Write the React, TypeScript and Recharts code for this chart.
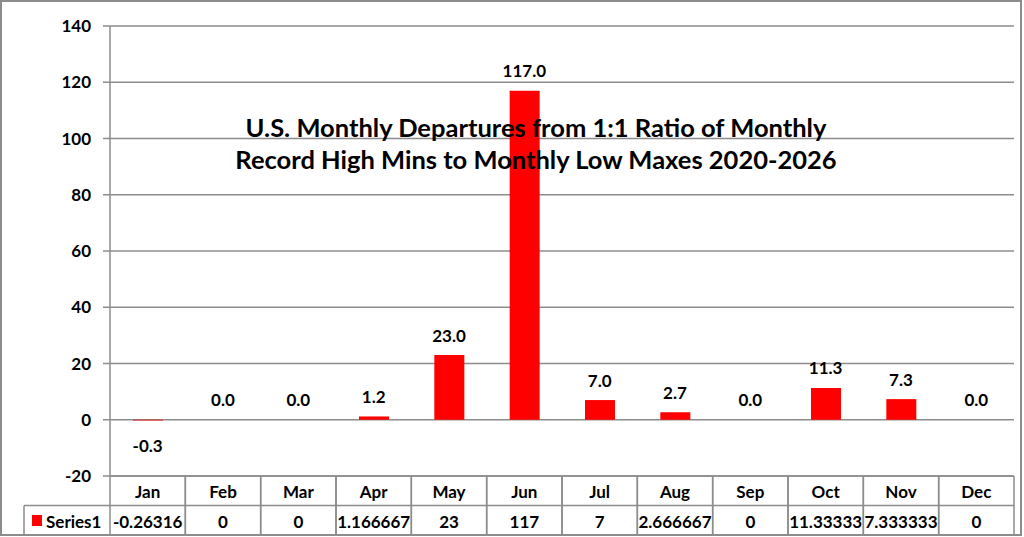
import { ComposedChart, Bar, Line, XAxis, YAxis, CartesianGrid, LabelList } from "recharts";

const months = ["Jan", "Feb", "Mar", "Apr", "May", "Jun", "Jul", "Aug", "Sep", "Oct", "Nov", "Dec"];
const series1 = [-0.26316, 0, 0, 1.166667, 23, 117, 7, 2.666667, 0, 11.33333, 7.333333, 0];
const yTicks = [-20, 0, 20, 40, 60, 80, 100, 120, 140];
const titleLines = [
  "U.S. Monthly Departures from 1:1 Ratio of Monthly",
  "Record High Mins to Monthly Low Maxes 2020-2026",
];

const W = 1024;
const H = 537;
const PLOT_LEFT = 110;
const PLOT_RIGHT = 1014;
const PLOT_TOP = 26;
const PLOT_BOTTOM = 476;
const ROW_MID = 505.5;
const TABLE_BOTTOM = 535;
const LEGEND_LEFT = 24;
const GRAY = "#8c8c8c";
const FONT = "Lato, 'Open Sans', sans-serif";
const FS = 17;

const data = months.map((m, i) => ({ month: m, value: series1[i] }));
const band = (PLOT_RIGHT - PLOT_LEFT) / months.length;

// one column of the data table under the plot (month header + value)
function TableCell(props: any) {
  const { x, payload } = props;
  const i = payload?.index ?? props.index ?? 0;
  const left = x - band / 2;
  const right = x + band / 2;
  return (
    <g>
      <line x1={left} y1={PLOT_BOTTOM} x2={left} y2={TABLE_BOTTOM} stroke={GRAY} strokeWidth={1.5} />
      <line x1={right} y1={PLOT_BOTTOM} x2={right} y2={TABLE_BOTTOM} stroke={GRAY} strokeWidth={1.5} />
      <line x1={left} y1={ROW_MID} x2={right} y2={ROW_MID} stroke={GRAY} strokeWidth={1.5} />
      <text x={x} y={491} textAnchor="middle" dominantBaseline="central" fontFamily={FONT} fontWeight="bold" fontSize={FS} fill="#000">
        {payload.value}
      </text>
      <text x={x} y={521} textAnchor="middle" dominantBaseline="central" fontFamily={FONT} fontWeight="bold" fontSize={FS} fill="#000">
        {String(series1[i])}
      </text>
      {i === 0 && (
        <g>
          <line x1={LEGEND_LEFT} y1={ROW_MID} x2={left} y2={ROW_MID} stroke={GRAY} strokeWidth={1.5} />
          <line x1={LEGEND_LEFT} y1={ROW_MID} x2={LEGEND_LEFT} y2={TABLE_BOTTOM} stroke={GRAY} strokeWidth={1.5} />
          <rect x={32} y={515} width={10} height={11} fill="#ff0000" />
          <text x={46} y={521} dominantBaseline="central" fontFamily={FONT} fontWeight="bold" fontSize={FS} fill="#000">
            Series1
          </text>
        </g>
      )}
    </g>
  );
}

// value labels: above for positive/zero, below for negative
function ValueLabel(props: any) {
  const { x, y, value } = props;
  const ty = value < 0 ? y + 25 : y - 20;
  return (
    <text x={x} y={ty} textAnchor="middle" dominantBaseline="central" fontFamily={FONT} fontWeight="bold" fontSize={FS} fill="#000">
      {Number(value).toFixed(1)}
    </text>
  );
}

export default function App() {
  return (
    <div style={{ position: "absolute", left: 0, top: 0, width: W, height: H, background: "#fff" }}>
      <ComposedChart
        width={W}
        height={H}
        data={data}
        margin={{ top: PLOT_TOP, right: W - PLOT_RIGHT, bottom: 0, left: 0 }}
      >
        <CartesianGrid horizontal vertical={false} stroke={GRAY} strokeWidth={1.5} />
        <YAxis
          type="number"
          domain={[-20, 140]}
          ticks={yTicks}
          width={PLOT_LEFT}
          tickSize={7}
          tickMargin={12}
          axisLine={{ stroke: GRAY, strokeWidth: 1.5 }}
          tickLine={{ stroke: GRAY, strokeWidth: 1.5 }}
          tick={{ fill: "#000", fontSize: FS, fontWeight: "bold", fontFamily: FONT }}
        />
        <XAxis
          dataKey="month"
          height={H - PLOT_BOTTOM}
          axisLine={{ stroke: GRAY, strokeWidth: 1.5 }}
          tickLine={false}
          interval={0}
          tick={<TableCell />}
        />
        <Bar dataKey="value" fill="#ff0000" barSize={30} isAnimationActive={false} />
        <Line
          dataKey="value"
          stroke="none"
          dot={false}
          activeDot={false}
          legendType="none"
          isAnimationActive={false}
        >
          <LabelList dataKey="value" content={<ValueLabel />} />
        </Line>
      </ComposedChart>
      <div
        style={{
          position: "absolute",
          left: 0,
          top: 111,
          width: 1072,
          textAlign: "center",
          fontFamily: FONT,
          fontWeight: "bold",
          fontSize: 25.5,
          lineHeight: "32px",
          color: "#000",
          pointerEvents: "none",
        }}
      >
        {titleLines.map((t) => (
          <div key={t}>{t}</div>
        ))}
      </div>
      <div
        style={{
          position: "absolute",
          left: 0,
          top: 0,
          width: 1022,
          height: 536,
          border: `2px solid ${GRAY}`,
          boxSizing: "border-box",
          pointerEvents: "none",
        }}
      />
    </div>
  );
}
